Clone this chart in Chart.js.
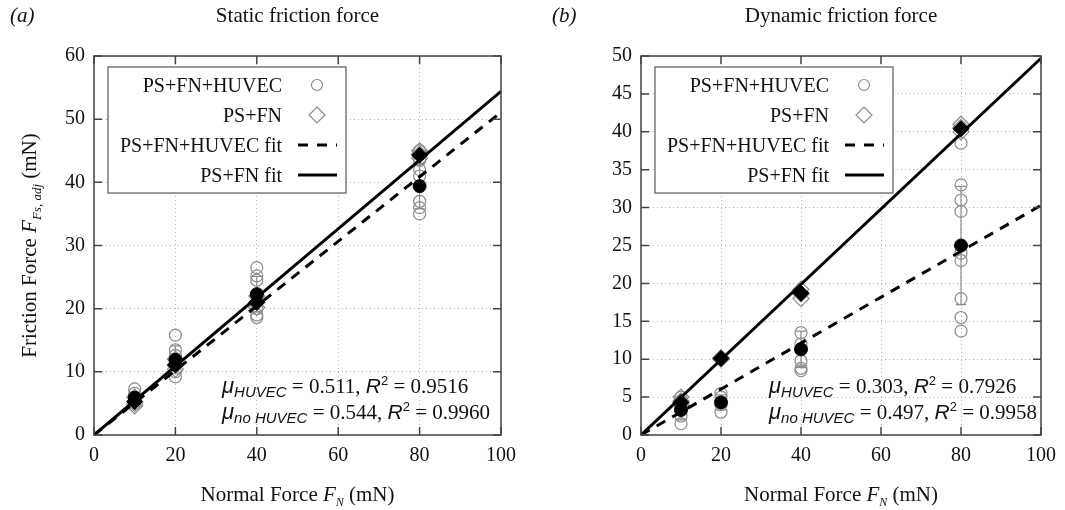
<!DOCTYPE html>
<html>
<head>
<meta charset="utf-8">
<script src="https://cdn.jsdelivr.net/npm/chart.js@4.4.0/dist/chart.umd.min.js"></script>
<style>
  body { margin: 0; background: #fff; }
  #wrap { position: relative; width: 1065px; height: 510px; }
  canvas { position: absolute; top: 0; }
</style>
</head>
<body>
<div id="wrap">
  <canvas id="chartA" width="540" height="510" style="left:0"></canvas>
  <canvas id="chartB" width="525" height="510" style="left:540px"></canvas>
</div>
<script>
// ---- data ----
// panel (a) static friction
const aHuvecX = [10, 10, 10, 10, 10, 20, 20, 20, 20, 20, 20, 40, 40, 40, 40, 40, 40, 40, 80, 80, 80, 80, 80, 80, 80];
const aHuvecY = [7.3, 6.6, 6.0, 5.4, 5.0, 15.8, 13.5, 12.6, 11.4, 10.0, 9.2, 26.5, 25.2, 24.5, 22.0, 20.0, 19.0, 18.6, 45.0, 43.5, 42.0, 41.0, 37.0, 36.0, 35.0];
const aFnX = [10, 10, 10, 20, 20, 20, 40, 40, 40, 80, 80, 80];
const aFnY = [6.0, 5.0, 4.6, 12.0, 11.0, 10.4, 22.0, 21.0, 20.2, 45.0, 44.5, 43.8];
const aMeanX = [10, 20, 40, 80];
const aHuvecMean = [5.9, 11.9, 22.3, 39.4];
const aHuvecStd = [0.9, 2.2, 2.8, 3.6];
const aFnMean = [5.3, 11.1, 21.0, 44.3];
const aFitX = [0, 100];
const aHuvecFit = [0, 51.1];
const aFnFit = [0, 54.4];

// panel (b) dynamic friction
const bHuvecX = [10, 10, 10, 10, 10, 10, 20, 20, 20, 20, 40, 40, 40, 40, 40, 80, 80, 80, 80, 80, 80, 80, 80, 80];
const bHuvecY = [5.0, 4.5, 4.0, 3.5, 2.5, 1.5, 5.5, 5.0, 4.0, 3.0, 13.5, 12.0, 9.8, 8.8, 8.5, 38.5, 33.0, 31.0, 29.5, 24.0, 23.0, 18.0, 15.5, 13.7];
const bFnX = [10, 10, 10, 20, 20, 40, 40, 40, 80, 80, 80];
const bFnY = [5.0, 4.5, 4.0, 10.2, 10.0, 19.2, 18.6, 18.0, 41.0, 40.6, 40.0];
const bMeanX = [10, 20, 40, 80];
const bHuvecMean = [3.3, 4.3, 11.3, 25.0];
const bHuvecStd = [1.3, 1.0, 2.4, 7.8];
const bFnMean = [4.3, 10.1, 18.7, 40.4];
const bFitX = [0, 100];
const bHuvecFit = [0, 30.3];
const bFnFit = [0, 49.7];

const xTicks = [0, 20, 40, 60, 80, 100];
const yMaxA = 60, yStepA = 10;
const yMaxB = 50, yStepB = 5;

const legendLabels = ['PS+FN+HUVEC', 'PS+FN', 'PS+FN+HUVEC fit', 'PS+FN fit'];

const SERIF = '"Liberation Serif", "Times New Roman", serif';
const SANS = '"Liberation Sans", Arial, sans-serif';
const GREY = '#8c8c8c';

function pts(xs, ys) {
    return xs.map(function(x, i) { return { x: x, y: ys[i] }; });
}

// draw a run of text pieces: [text, font, dy]
function richWidth(ctx, parts) {
    let w = 0;
    parts.forEach(function(p) { ctx.font = p[1]; w += ctx.measureText(p[0]).width; });
    return w;
}
function drawRich(ctx, x, y, parts, align) {
    let w = richWidth(ctx, parts);
    let cx = align === 'center' ? x - w / 2 : (align === 'right' ? x - w : x);
    ctx.textAlign = 'left';
    ctx.textBaseline = 'alphabetic';
    parts.forEach(function(p) {
        ctx.font = p[1];
        ctx.fillText(p[0], cx, y + (p[2] || 0));
        cx += ctx.measureText(p[0]).width;
    });
}

function makeDecor(cfg) {
    return {
        id: 'decor' + cfg.tag,
        beforeDatasetsDraw: function(chart) {
            // error bars of the HUVEC means
            const ctx = chart.ctx, xs = chart.scales.x, ys = chart.scales.y;
            ctx.save();
            ctx.strokeStyle = GREY;
            ctx.lineWidth = 1.2;
            cfg.meanX.forEach(function(x, i) {
                const px = xs.getPixelForValue(x);
                const top = ys.getPixelForValue(cfg.mean[i] + cfg.std[i]);
                const bot = ys.getPixelForValue(cfg.mean[i] - cfg.std[i]);
                ctx.beginPath();
                ctx.moveTo(px, top); ctx.lineTo(px, bot);
                ctx.moveTo(px - 5, top); ctx.lineTo(px + 5, top);
                ctx.moveTo(px - 5, bot); ctx.lineTo(px + 5, bot);
                ctx.stroke();
            });
            ctx.restore();
        },
        afterDraw: function(chart) {
            const ctx = chart.ctx, a = chart.chartArea;
            const xs = chart.scales.x, ys = chart.scales.y;
            ctx.save();
            // frame + inward ticks
            ctx.strokeStyle = '#444';
            ctx.lineWidth = 1.5;
            ctx.strokeRect(a.left, a.top, a.right - a.left, a.bottom - a.top);
            ctx.beginPath();
            xs.ticks.forEach(function(t) {
                const px = xs.getPixelForValue(t.value);
                ctx.moveTo(px, a.bottom); ctx.lineTo(px, a.bottom - 8);
                ctx.moveTo(px, a.top); ctx.lineTo(px, a.top + 8);
            });
            ys.ticks.forEach(function(t) {
                const py = ys.getPixelForValue(t.value);
                ctx.moveTo(a.left, py); ctx.lineTo(a.left + 8, py);
                ctx.moveTo(a.right, py); ctx.lineTo(a.right - 8, py);
            });
            ctx.stroke();

            ctx.fillStyle = '#111';
            // panel letter + title
            drawRich(ctx, cfg.letterX, 22, [[cfg.letter, 'italic 21px ' + SERIF]], 'left');
            drawRich(ctx, (a.left + a.right) / 2, 22, [[cfg.title, '21px ' + SERIF]], 'center');
            // x axis title
            drawRich(ctx, (a.left + a.right) / 2, 501, [
                ['Normal Force ', '21px ' + SERIF],
                ['F', 'italic 21px ' + SERIF],
                ['N', 'italic 12px ' + SERIF, 5],
                [' (mN)', '21px ' + SERIF]
            ], 'center');
            // y axis title
            if (cfg.yTitle) {
                ctx.save();
                ctx.translate(36, (a.top + a.bottom) / 2);
                ctx.rotate(-Math.PI / 2);
                drawRich(ctx, 0, 0, [
                    ['Friction Force ', '21px ' + SERIF],
                    ['F', 'italic 21px ' + SERIF],
                    ['Fs, adj', 'italic 13px ' + SERIF, 5],
                    [' (mN)', '21px ' + SERIF]
                ], 'center');
                ctx.restore();
            }

            // legend box
            const L = cfg.legend;
            ctx.fillStyle = '#fff';
            ctx.fillRect(L.left, L.top, L.w, L.h);
            ctx.strokeStyle = '#666';
            ctx.lineWidth = 1.3;
            ctx.strokeRect(L.left, L.top, L.w, L.h);
            ctx.fillStyle = '#111';
            legendLabels.forEach(function(lab, i) {
                const yy = L.top + 18 + i * 30;
                drawRich(ctx, L.textRight, yy + 7, [[lab, '20px ' + SERIF]], 'right');
                const sx = L.textRight + 35;
                ctx.beginPath();
                if (i === 0) {
                    ctx.strokeStyle = GREY; ctx.lineWidth = 1.2;
                    ctx.arc(sx, yy, 5.5, 0, Math.PI * 2);
                    ctx.stroke();
                } else if (i === 1) {
                    ctx.strokeStyle = GREY; ctx.lineWidth = 1.2;
                    ctx.moveTo(sx, yy - 8); ctx.lineTo(sx + 8, yy); ctx.lineTo(sx, yy + 8); ctx.lineTo(sx - 8, yy); ctx.closePath();
                    ctx.stroke();
                } else {
                    ctx.strokeStyle = '#000'; ctx.lineWidth = 3;
                    ctx.setLineDash(i === 2 ? [10, 9] : []);
                    ctx.moveTo(sx - 19, yy); ctx.lineTo(sx + 20, yy);
                    ctx.stroke();
                    ctx.setLineDash([]);
                }
            });

            // fit annotation
            ctx.fillStyle = '#111';
            const ax = cfg.noteX;
            drawRich(ctx, ax, cfg.noteY, [
                ['\u03bc', 'italic 22px ' + SANS],
                ['HUVEC', 'italic 15px ' + SANS, 4],
                [' = ' + cfg.notes[0] + ', ', '21px ' + SERIF],
                ['R', 'italic 21px ' + SANS],
                ['2', '13px ' + SANS, -8],
                [' = ' + cfg.notes[1], '21px ' + SERIF]
            ], 'left');
            drawRich(ctx, ax, cfg.noteY + 26, [
                ['\u03bc', 'italic 22px ' + SANS],
                ['no HUVEC', 'italic 15px ' + SANS, 4],
                [' = ' + cfg.notes[2] + ', ', '21px ' + SERIF],
                ['R', 'italic 21px ' + SANS],
                ['2', '13px ' + SANS, -8],
                [' = ' + cfg.notes[3], '21px ' + SERIF]
            ], 'left');
            ctx.restore();
        }
    };
}

function buildChart(el, d) {
    return new Chart(document.getElementById(el), {
        type: 'scatter',
        data: {
            datasets: [
                { data: pts(d.meanX, d.huvecMean), pointStyle: 'circle', pointRadius: 6.5, backgroundColor: '#000', borderColor: '#000', order: 0 },
                { data: pts(d.meanX, d.fnMean), pointStyle: 'rectRot', pointRadius: 8, backgroundColor: '#000', borderColor: '#000', order: 0 },
                { type: 'line', data: pts(d.fitX, d.fnFit), borderColor: '#000', borderWidth: 3, pointRadius: 0, order: 1 },
                { type: 'line', data: pts(d.fitX, d.huvecFit), borderColor: '#000', borderWidth: 3, borderDash: [10, 8], pointRadius: 0, order: 1 },
                { data: pts(d.fnX, d.fnY), pointStyle: 'rectRot', pointRadius: 8, backgroundColor: 'rgba(0,0,0,0)', borderColor: GREY, borderWidth: 1.2, order: 2 },
                { data: pts(d.huvecX, d.huvecY), pointStyle: 'circle', pointRadius: 6, backgroundColor: 'rgba(0,0,0,0)', borderColor: GREY, borderWidth: 1.2, order: 2 }
            ]
        },
        options: {
            responsive: false,
            animation: false,
            layout: { padding: { top: 56, right: d.padRight, left: 0, bottom: 0 } },
            plugins: { legend: { display: false }, tooltip: { enabled: false } },
            scales: {
                x: {
                    type: 'linear', min: 0, max: 100,
                    afterBuildTicks: function(s) { s.ticks = xTicks.map(function(v) { return { value: v }; }); },
                    afterFit: function(s) { s.height = 75; },
                    grid: { color: '#b5b5b5', lineWidth: 1, drawTicks: false },
                    border: { display: false, dash: [1, 3] },
                    ticks: { padding: 9, color: '#111', font: { family: SERIF, size: 20 }, maxRotation: 0 }
                },
                y: {
                    type: 'linear', min: 0, max: d.yMax,
                    ticks: { stepSize: d.yStep, padding: 9, color: '#111', font: { family: SERIF, size: 20 } },
                    afterFit: function(s) { s.width = d.yWidth; },
                    grid: { color: '#b5b5b5', lineWidth: 1, drawTicks: false },
                    border: { display: false, dash: [1, 3] }
                }
            }
        },
        plugins: [makeDecor(d.decor)]
    });
}

buildChart('chartA', {
    huvecX: aHuvecX, huvecY: aHuvecY, fnX: aFnX, fnY: aFnY,
    meanX: aMeanX, huvecMean: aHuvecMean, fnMean: aFnMean,
    fitX: aFitX, huvecFit: aHuvecFit, fnFit: aFnFit,
    yMax: yMaxA, yStep: yStepA, yWidth: 94, padRight: 39,
    decor: {
        tag: 'A', letter: '(a)', letterX: 10, title: 'Static friction force', yTitle: true,
        meanX: aMeanX, mean: aHuvecMean, std: aHuvecStd,
        legend: { left: 108, top: 67, w: 238, h: 126, textRight: 282 },
        noteX: 222, noteY: 393, notes: ['0.511', '0.9516', '0.544', '0.9960']
    }
});

buildChart('chartB', {
    huvecX: bHuvecX, huvecY: bHuvecY, fnX: bFnX, fnY: bFnY,
    meanX: bMeanX, huvecMean: bHuvecMean, fnMean: bFnMean,
    fitX: bFitX, huvecFit: bHuvecFit, fnFit: bFnFit,
    yMax: yMaxB, yStep: yStepB, yWidth: 101, padRight: 21,
    decor: {
        tag: 'B', letter: '(b)', letterX: 12, title: 'Dynamic friction force', yTitle: false,
        meanX: bMeanX, mean: bHuvecMean, std: bHuvecStd,
        legend: { left: 115, top: 67, w: 238, h: 126, textRight: 289 },
        noteX: 229, noteY: 393, notes: ['0.303', '0.7926', '0.497', '0.9958']
    }
});
</script>
</body>
</html>
